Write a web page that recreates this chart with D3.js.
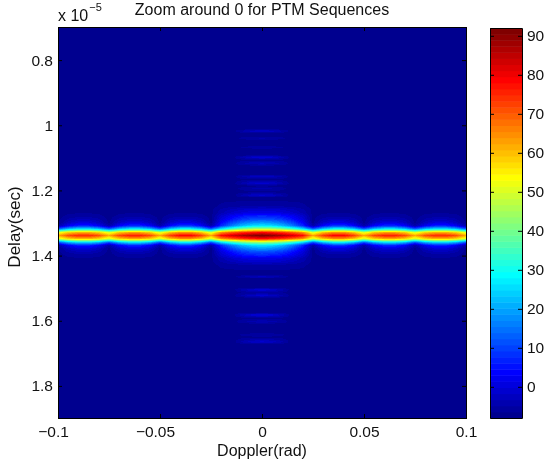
<!DOCTYPE html>
<html>
<head>
<meta charset="utf-8">
<script src="https://cdn.jsdelivr.net/npm/d3@7"></script>
<style>
    html, body { margin: 0; background: #fff; }
    #chart { position: relative; width: 545px; height: 465px; overflow: hidden; }
    #chart canvas, #chart svg { position: absolute; left: 0; top: 0; }
    text { font-family: "Liberation Sans", Arial, sans-serif; fill: #111; }
</style>
</head>
<body>
<div id="chart"></div>
<script>
// ticks
var dopplerTicks = [-0.1, -0.05, 0, 0.05, 0.1]
var dopplerTickLabels = ["\u22120.1", "\u22120.05", "0", "0.05", "0.1"]
var delayTicks = [0.8, 1, 1.2, 1.4, 1.6, 1.8]
var delayTickLabels = ["0.8", "1", "1.2", "1.4", "1.6", "1.8"]
var barTicks = [0, 10, 20, 30, 40, 50, 60, 70, 80, 90]

// level of the picture with nothing in it
var floorLevel = -7

var dopplerCols = [-0.1, -0.095, -0.09, -0.085, -0.08, -0.075, -0.07, -0.065, -0.06, -0.055, -0.05,
    -0.045, -0.04, -0.035, -0.03, -0.025, -0.02, -0.015, -0.01, -0.005, 0,
    0.005, 0.01, 0.015, 0.02, 0.025, 0.03, 0.035, 0.04, 0.045, 0.05,
    0.055, 0.06, 0.065, 0.07, 0.075, 0.08, 0.085, 0.09, 0.095, 0.1]
var coreByCol = [69, 65, 62, 62, 65, 69, 65, 62, 62, 65, 69,
    65, 63, 63, 65, 69, 67, 60, 55, 53, 53,
    53, 55, 60, 67, 69, 65, 63, 63, 65, 69,
    65, 62, 62, 65, 69, 65, 62, 62, 65, 69]
var lobeByCol = [0, 13, 20, 20, 13, 0, 14, 21, 21, 14, 0,
    15, 23, 23, 15, 0, 0, 0, 0, 0, 0,
    0, 0, 0, 0, 0, 15, 23, 23, 15, 0,
    14, 21, 21, 14, 0, 13, 20, 20, 13, 0]
var mainByCol = [0, 0, 0, 0, 0, 0, 0, 0, 0, 0, 0,
    0, 0, 0, 0, 0, 18, 30, 39, 44, 46,
    44, 39, 30, 18, 0, 0, 0, 0, 0, 0,
    0, 0, 0, 0, 0, 0, 0, 0, 0, 0]
var farCols = [-0.014, -0.01, -0.005, 0, 0.005, 0.01, 0.014]
var farByCol = [0, 0.4, 0.85, 1, 0.85, 0.4, 0]

// values across delay (x 1e-5 sec)
var nearRows = [1.2285, 1.2385, 1.2485, 1.2585, 1.2685, 1.2785, 1.2885, 1.2985, 1.3085, 1.3185, 1.3285, 1.3385,
    1.3485, 1.3585, 1.3685, 1.3785, 1.3885, 1.3985, 1.4085, 1.4185, 1.4285, 1.4385, 1.4485]
var coreByRow = [0, 0, 0, 0, 0, 0, 0, 0, 0.03, 0.3, 0.82, 1, 0.82, 0.3, 0.03, 0, 0, 0, 0, 0, 0, 0, 0]
var lobeByRow = [0, 0, 0, 0, 0.02, 0.07, 0.18, 0.35, 0.6, 0.8, 0.85, 1,
    0.85, 0.8, 0.6, 0.35, 0.18, 0.07, 0.02, 0, 0, 0, 0]
var mainByRow = [0, 0.03, 0.05, 0.13, 0.18, 0.31, 0.4, 0.56, 0.7, 0.82, 0.9, 1,
    0.9, 0.82, 0.7, 0.56, 0.4, 0.31, 0.18, 0.13, 0.05, 0.03, 0]

var farRows = [1.012, 1.018, 1.024, 1.034, 1.04, 1.046, 1.062, 1.068, 1.074, 1.092, 1.098, 1.107, 1.117, 1.125,
    1.151, 1.157, 1.167, 1.178, 1.186, 1.194, 1.205, 1.215, 1.222,
    1.459, 1.465, 1.471, 1.499, 1.505, 1.514, 1.523, 1.53, 1.576, 1.582, 1.592, 1.603, 1.61,
    1.637, 1.643, 1.651, 1.665, 1.672]
var farByRow = [0, 6, 0, 0, 2.5, 0, 0, 1.5, 0, 0, 7, 0, 4, 0,
    0, 5, 0, 6.5, 0, 2.5, 0, 6, 0,
    0, 4.5, 0, 0, 7, 1, 6, 0, 0, 8, 0, 3.5, 0,
    0, 2, 0, 6, 0]

// MATLAB jet, 64 steps
var jet = d3.range(64).map(i => {
    var t = (i + 1) / 64
    var ch = c => Math.round(255 * Math.max(0, Math.min(1, 1.5 - Math.abs(4 * t - c))))
    return d3.rgb(ch(3), ch(2), ch(1)).formatHex()
})

var width = 545, height = 465
var plot = { left: 58, right: 466, top: 27, bottom: 418 }
var bar = { left: 490, right: 522, top: 28, bottom: 418 }

var x = d3.scaleLinear().domain([-0.1, 0.1]).range([plot.left, plot.right])
var y = d3.scaleLinear().domain([0.7, 1.9]).range([plot.top + 0.5, plot.bottom + 0.5])
var barY = d3.scaleLinear().domain([-8, 92]).range([bar.bottom, bar.top])
var color = d3.scaleQuantize().domain([-8, 92]).range(jet)

// piecewise lookups, outside the table they stay at the end values
var lookup = (xs, ys) => d3.scaleLinear().domain(xs).range(ys).clamp(true)
var coreCol = lookup(dopplerCols, coreByCol)
var lobeCol = lookup(dopplerCols, lobeByCol)
var mainCol = lookup(dopplerCols, mainByCol)
var farCol = lookup(farCols, farByCol)
var coreRow = lookup(nearRows, coreByRow)
var lobeRow = lookup(nearRows, lobeByRow)
var mainRow = lookup(nearRows, mainByRow)
var farRow = lookup(farRows, farByRow)

var chart = d3.select("#chart")

// heat map
var plotW = plot.right - plot.left, plotH = plot.bottom - plot.top
var canvas = chart.append("canvas")
    .attr("width", plotW).attr("height", plotH)
    .style("left", plot.left + "px").style("top", plot.top + "px")
var ctx = canvas.node().getContext("2d")
var cols = d3.range(plotW).map(i => {
    var d = x.invert(plot.left + i + 0.5)
    return [coreCol(d), lobeCol(d), mainCol(d), farCol(d)]
})
for (var j = 0; j < plotH; j++) {
    var t = y.invert(plot.top + j + 0.5)
    var cr = coreRow(t), lr = lobeRow(t), mr = mainRow(t), fr = farRow(t)
    for (var i = 0; i < plotW; i++) {
        var c = cols[i]
        ctx.fillStyle = color(floorLevel + c[0] * cr + c[1] * lr + c[2] * mr + c[3] * fr)
        ctx.fillRect(i, j, 1, 1)
    }
}

var svg = chart.append("svg").attr("width", width).attr("height", height)

// colour bar
svg.append("g").selectAll("rect").data(jet).enter().append("rect")
    .attr("x", bar.left)
    .attr("width", bar.right - bar.left)
    .attr("y", (d, i) => barY(-8 + (i + 1) * 100 / 64))
    .attr("height", 100 / 64 * 3.9 + 0.5)
    .attr("fill", d => d)

function frame(box, xScale, yScale, xVals, yVals, xLabels, yLabels) {
    var tick = 4
    var g = svg.append("g")
    var bottom = d3.axisBottom(xScale).tickValues(xVals).tickSizeInner(-tick).tickSizeOuter(0).tickPadding(8)
        .tickFormat((d, i) => xLabels ? xLabels[i] : "")
    var top = d3.axisTop(xScale).tickValues(xVals).tickSizeInner(-tick).tickSizeOuter(0).tickFormat("")
    var left = d3.axisLeft(yScale).tickValues(yVals).tickSizeOuter(0).tickSizeInner(-tick)
    var right = d3.axisRight(yScale).tickValues(yVals).tickSizeOuter(0).tickSizeInner(-tick)
    if (xLabels) {
        left.tickPadding(5).tickFormat((d, i) => yLabels[i])
        right.tickFormat("")
    } else {
        left.tickFormat("")
        right.tickPadding(5).tickFormat((d, i) => yLabels[i])
    }
    var b = g.append("g").attr("transform", "translate(0," + box.bottom + ")").call(bottom)
    g.append("g").attr("transform", "translate(0," + box.top + ")").call(top)
    g.append("g").attr("transform", "translate(" + box.left + ",0)").call(left)
    g.append("g").attr("transform", "translate(" + box.right + ",0)").call(right)
    g.selectAll("text").attr("font-family", null).attr("font-size", 15.5)
    g.selectAll(".domain, .tick line").attr("stroke", "#000").attr("stroke-width", 1)
    // negative numbers are centred on the digits, not on the minus
    b.selectAll("text").attr("dx", d => d < 0 ? -5 : 0)
}

frame(plot, x, y, dopplerTicks, delayTicks, dopplerTickLabels, delayTickLabels)
frame(bar, d3.scaleLinear().domain([0, 1]).range([bar.left, bar.right]), barY, [], barTicks, null, barTicks.map(String))

// labels
svg.append("text").attr("x", 262).attr("y", 15).attr("text-anchor", "middle")
    .attr("font-size", 16).text("Zoom around 0 for PTM Sequences")
svg.append("text").attr("x", 262).attr("y", 456).attr("text-anchor", "middle")
    .attr("font-size", 16).text("Doppler(rad)")
svg.append("text").attr("transform", "translate(20,227) rotate(-90)").attr("text-anchor", "middle")
    .attr("font-size", 17).text("Delay(sec)")
var exponent = svg.append("text").attr("x", 58).attr("y", 21).attr("font-size", 16)
exponent.append("tspan").text("x 10")
exponent.append("tspan").attr("dy", -10).attr("dx", 1).attr("font-size", 11).text("\u22125")
</script>
</body>
</html>
